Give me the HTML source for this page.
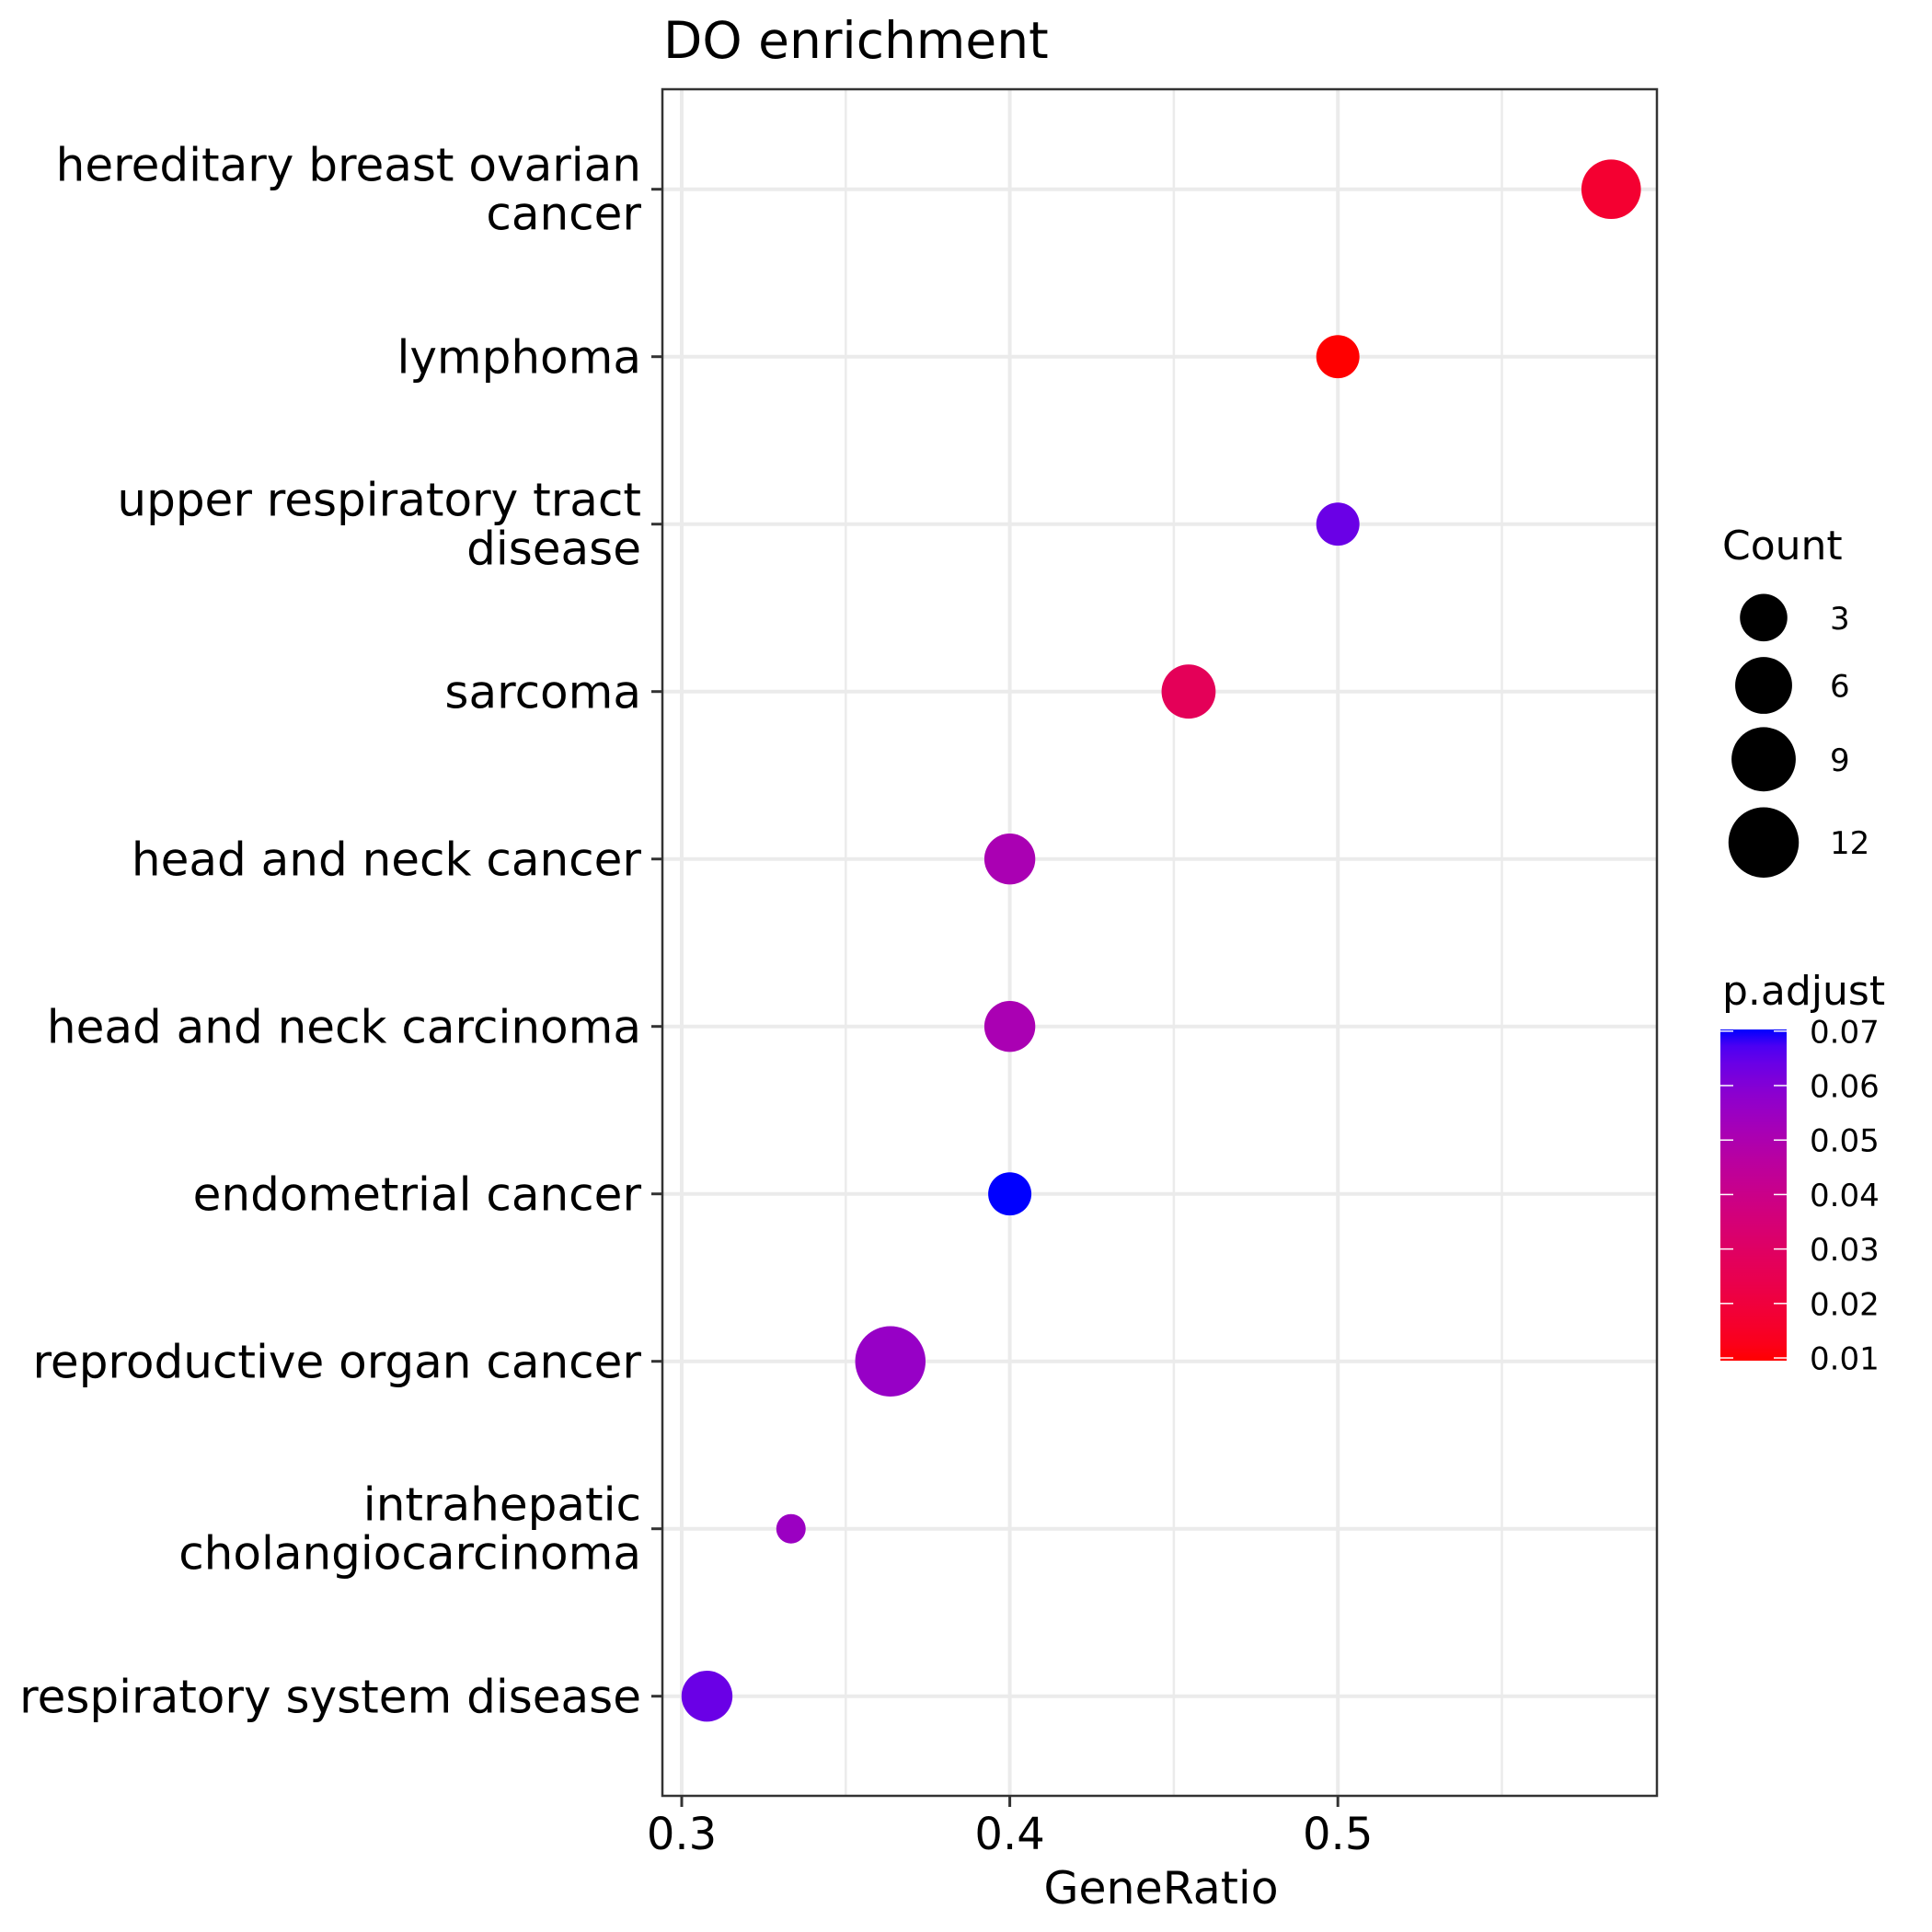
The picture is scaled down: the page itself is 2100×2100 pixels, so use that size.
<!DOCTYPE html>
<html><head><meta charset="utf-8"><title>DO enrichment</title>
<style>html,body{margin:0;padding:0;background:#fff}svg{display:block}text{font-family:"DejaVu Sans","Liberation Sans",sans-serif;fill:#000}</style>
</head><body>
<svg id="chart" xmlns="http://www.w3.org/2000/svg" width="2100" height="2100" viewBox="0 0 2100 2100">
<rect x="0" y="0" width="2100" height="2100" fill="#fff"/>
<text x="721" y="63" font-size="55">DO enrichment</text>
<g id="grid"></g><g id="points"></g>
<rect x="720" y="97" width="1081" height="1855" fill="none" stroke="#333" stroke-width="2.5"/>
<g id="axes"></g>
<text x="1262" y="2069" font-size="49" text-anchor="middle">GeneRatio</text>
<g id="legend"></g>
</svg>
<script>
const categories = ["hereditary breast ovarian|cancer","lymphoma","upper respiratory tract|disease","sarcoma","head and neck cancer","head and neck carcinoma","endometrial cancer","reproductive organ cancer","intrahepatic|cholangiocarcinoma","respiratory system disease"];
const geneRatio = [0.5833,0.5,0.5,0.4545,0.4,0.4,0.4,0.3636,0.3333,0.3077];
const counts = [7,2,2,5,4,4,2,12,1,4];
const pAdjust = [0.017,0.0095,0.064,0.027,0.051,0.051,0.0703,0.056,0.055,0.064];
const xTicks = [0.3,0.4,0.5];
const xTickLabels = ["0.3","0.4","0.5"];
const xMinor = [0.35,0.45,0.55];
const sizeBreaks = [3,6,9,12];
const colorBreaks = [0.01,0.02,0.03,0.04,0.05,0.06,0.07];
const colorLabels = ["0.01","0.02","0.03","0.04","0.05","0.06","0.07"];

const NS="http://www.w3.org/2000/svg";
const PL=720, PR=1801, PT=97, PB=1952;
const xs = v => 741 + (v-0.3)*3566;
const ys = i => 205.7 + i*182;
const rs = c => c<=1 ? 16 : 13.3 + 7.2*Math.sqrt(c);
const P0=0.0095, P1=0.0703;
function lab2rgb(L,a,b){let y=(L+16)/116,x=a/500+y,z=y-b/200;const f=t=>t*t*t>0.008856?t*t*t:(t-16/116)/7.787;x=0.95047*f(x);y=f(y);z=1.08883*f(z);let r=x*3.2406+y*-1.5372+z*-0.4986,g=x*-0.9689+y*1.8758+z*0.0415,bb=x*0.0557+y*-0.2040+z*1.0570;const gm=c=>{c=c>0.0031308?1.055*Math.pow(c,1/2.4)-0.055:12.92*c;return Math.round(Math.max(0,Math.min(1,c))*255)};return `rgb(${gm(r)},${gm(g)},${gm(bb)})`;}
function col(p){let t=(p-P0)/(P1-P0);t=Math.max(0,Math.min(1,t));return lab2rgb(53.24+(32.30-53.24)*t,80.09+(79.19-80.09)*t,67.20+(-107.86-67.20)*t);}
function mk(tag,attrs,parent){const e=document.createElementNS(NS,tag);for(const k in attrs)e.setAttribute(k,attrs[k]);parent.appendChild(e);return e;}
const grid=document.getElementById('grid'),pts=document.getElementById('points'),axes=document.getElementById('axes'),leg=document.getElementById('legend');
xMinor.forEach(v=>{const l=mk('line',{x1:xs(v),x2:xs(v),y1:PT,y2:PB,stroke:'#EBEBEB','stroke-width':2.5},grid);

});
xTicks.forEach((v,i)=>{const l=mk('line',{x1:xs(v),x2:xs(v),y1:PT,y2:PB,stroke:'#EBEBEB','stroke-width':4},grid);


const t=mk('line',{x1:xs(v),x2:xs(v),y1:PB,y2:PB+12,stroke:'#333','stroke-width':3},axes);


const tx=mk('text',{x:xs(v),y:2010,'font-size':48,'text-anchor':'middle'},axes);tx.textContent=xTickLabels[i];

});
categories.forEach((c,i)=>{const y=ys(i);
const g=mk('line',{x1:PL,x2:PR,y1:y,y2:y,stroke:'#EBEBEB','stroke-width':4},grid);


const t=mk('line',{x1:PL-12,x2:PL,y1:y,y2:y,stroke:'#333','stroke-width':3},axes);


const parts=c.split('|');
const tx=mk('text',{x:697,y:0,'font-size':50,'text-anchor':'end'},axes);


if(parts.length===1){tx.setAttribute('y',y+18);tx.textContent=parts[0];}
else{tx.setAttribute('y',y-9);const a=mk('tspan',{x:697},tx);a.textContent=parts[0];const b=mk('tspan',{x:697,dy:53},tx);b.textContent=parts[1];}
const ci=mk('circle',{cx:xs(geneRatio[i]),cy:y,r:rs(counts[i]),fill:col(pAdjust[i])},pts);

});
const lt=mk('text',{x:1872,y:608,'font-size':44},leg);lt.textContent='Count';


const legY=[671.3,745,825.3,915.7];
sizeBreaks.forEach((c,i)=>{const ci=mk('circle',{cx:1917,cy:legY[i],r:rs(c),fill:'#000'},leg);


const t=mk('text',{x:1989,y:legY[i]+12.5,'font-size':34},leg);t.textContent=String(c);

});
const ct=mk('text',{x:1872,y:1092,'font-size':44},leg);ct.textContent='p.adjust';


const defs=mk('defs',{},leg);const gr=mk('linearGradient',{id:'pg',x1:0,y1:1,x2:0,y2:0},defs);
for(let k=0;k<=20;k++){mk('stop',{offset:k/20,'stop-color':col(P0+(P1-P0)*k/20)},gr);}
const BT=1119,BB=1479;
const bar=mk('rect',{x:1870,y:BT,width:72,height:BB-BT,fill:'url(#pg)'},leg);


const py=p=>BB-(p-P0)/(P1-P0)*(BB-BT);
colorBreaks.forEach((p,i)=>{const y=py(p);
const a=mk('line',{x1:1870,x2:1884,y1:y,y2:y,stroke:'#fff','stroke-width':1.5},leg);


const b=mk('line',{x1:1928,x2:1942,y1:y,y2:y,stroke:'#fff','stroke-width':1.5},leg);


const t=mk('text',{x:1967,y:y+12.5,'font-size':34},leg);t.textContent=colorLabels[i];

});
</script>
</body></html>
